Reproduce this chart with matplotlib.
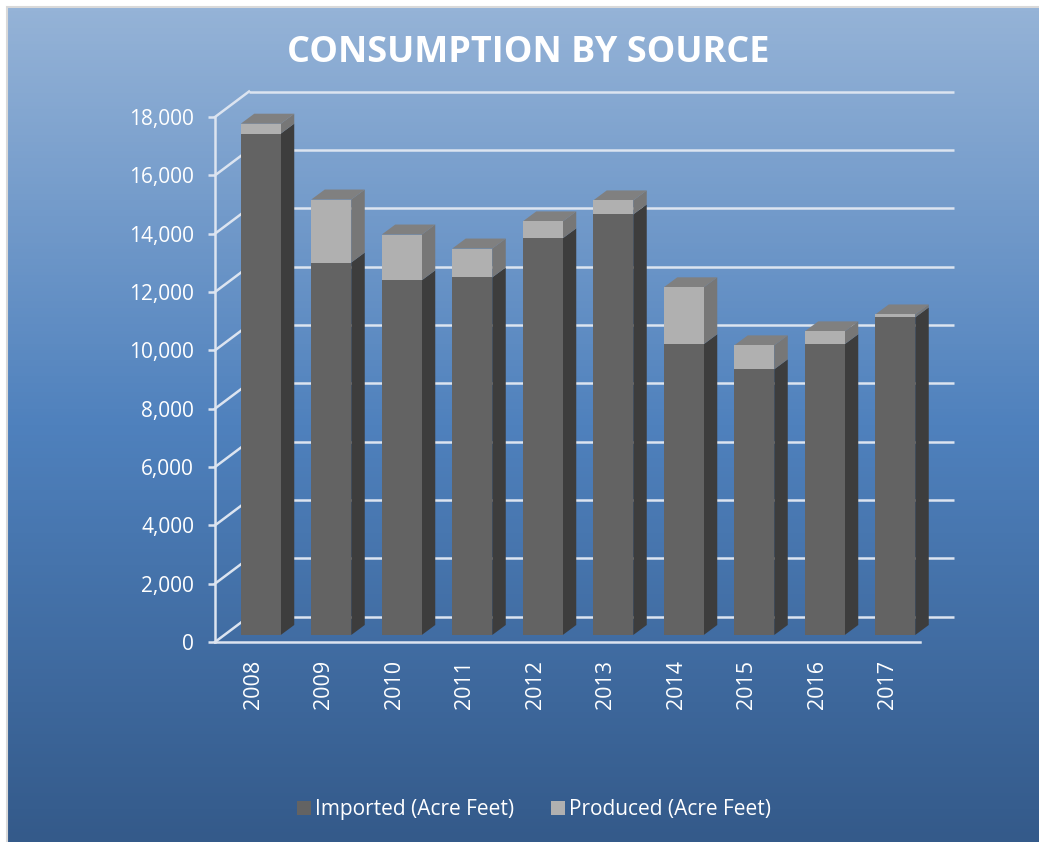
import matplotlib
matplotlib.use("Agg")
import matplotlib.pyplot as plt
import numpy as np
from matplotlib.colors import LinearSegmentedColormap
from matplotlib.patches import Patch, Polygon, Rectangle

years = ["2008", "2009", "2010", "2011", "2012", "2013", "2014", "2015", "2016", "2017"]
imported = [17190, 12770, 12160, 12260, 13600, 14420, 9970, 9110, 9970, 10890]
produced = [340, 2160, 1570, 990, 580, 480, 1950, 820, 440, 100]
y_ticks = [0, 2000, 4000, 6000, 8000, 10000, 12000, 14000, 16000, 18000]

W, H = 1039, 842
plt.rcParams["font.family"] = ["Open Sans", "DejaVu Sans"]

fig = plt.figure(figsize=(W / 100, H / 100), dpi=100, facecolor="white")

# gradient background with thin grey frame
bg = fig.add_axes([8 / W, 0, 1 - 8 / W, 1 - 8 / H], zorder=0)
cmap = LinearSegmentedColormap.from_list(
    "bg", [(0, "#95B3D7"), (0.5, "#4F81BD"), (1, "#345A8A")]
)
bg.imshow(np.linspace(0, 1, 256).reshape(-1, 1), aspect="auto", cmap=cmap)
bg.axis("off")
fig.add_artist(Rectangle((7 / W, -0.1), 1.1, 1.1 - 7 / H, transform=fig.transFigure,
                         fill=False, ec="#D9D9D9", lw=1.5))

# axes = front plane of the fake 3d box
ax = fig.add_axes([215 / W, (H - 642) / H, 705 / W, 525 / H], zorder=1)
ax.patch.set_alpha(0)
ax.set_xlim(0, 10)
ax.set_ylim(0, 18000)
px_x = 10 / 705
px_y = 18000 / 525

line_col = "#DCE4F0"
wall_dx, wall_dy = 34 * px_x, 25.5 * px_y
depth_x, depth_y = 13.5 * px_x, 10 * px_y
bar_dx, bar_dy = 10.5 * px_x, 7 * px_y
bar_w = 40 * px_x

for t in y_ticks:
    ax.plot([wall_dx, 10 + wall_dx], [t + wall_dy, t + wall_dy], color=line_col,
            lw=1.8, clip_on=False, zorder=1, solid_capstyle="butt")
    ax.plot([0, wall_dx], [t, t + wall_dy], color=line_col, lw=1.8,
            clip_on=False, zorder=1)

x = np.arange(len(years)) + 0.5 + bar_dx
imported_arr = np.array(imported)
total = imported_arr + np.array(produced)

for i in range(len(years)):
    l, r = x[i] - bar_w / 2, x[i] + bar_w / 2
    y0, y1, y2 = bar_dy, imported[i] + bar_dy, total[i] + bar_dy
    z = 3 + i
    ax.add_patch(Polygon([(r, y0), (r + depth_x, y0 + depth_y), (r + depth_x, y1 + depth_y), (r, y1)],
                         fc="#3D3D3D", ec="none", zorder=z, clip_on=False))
    ax.add_patch(Polygon([(r, y1), (r + depth_x, y1 + depth_y), (r + depth_x, y2 + depth_y), (r, y2)],
                         fc="#777777", ec="none", zorder=z, clip_on=False))
    ax.add_patch(Polygon([(l, y2), (r, y2), (r + depth_x, y2 + depth_y), (l + depth_x, y2 + depth_y)],
                         fc="#808080", ec="none", zorder=z, clip_on=False))
    ax.bar(x[i], imported[i], bar_w, bottom=bar_dy, color="#636363", zorder=z, clip_on=False)
    ax.bar(x[i], produced[i], bar_w, bottom=y1, color="#B0B0B0", zorder=z, clip_on=False)

for s in ["top", "right"]:
    ax.spines[s].set_visible(False)
for s in ["left", "bottom"]:
    ax.spines[s].set_color(line_col)
    ax.spines[s].set_linewidth(1.8)
    ax.spines[s].set_zorder(20)

ax.set_yticks(y_ticks)
ax.set_yticklabels([f"{t:,}" for t in y_ticks])
ax.set_xticks(np.arange(len(years)) + 0.5 + 3 * px_x)
ax.set_xticklabels(years, rotation=90)
ax.tick_params(axis="y", colors="white", labelsize=15, length=5, width=1.8,
               color=line_col, pad=10)
ax.tick_params(axis="x", colors="white", labelsize=15.5, length=0, pad=13)

fig.text(528 / W, 1 - 53 / H, "CONSUMPTION BY SOURCE", color="white", fontsize=25.9,
         fontweight="bold", ha="center", va="center")

handles = [Patch(fc="#636363", label="Imported (Acre Feet)"),
           Patch(fc="#B0B0B0", label="Produced (Acre Feet)")]
leg = fig.legend(handles=handles, loc="center", bbox_to_anchor=(534 / W, 1 - 810 / H),
                 ncol=2, frameon=False, fontsize=15, labelcolor="white",
                 handlelength=0.67, handleheight=0.67, handletextpad=0.2, columnspacing=1.8)

fig.savefig("out.png", dpi=100)
